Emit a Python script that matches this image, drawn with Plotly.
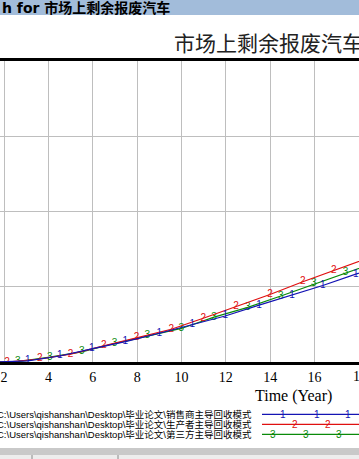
import plotly.graph_objects as go

# ---------------- data (y in grid units) ----------------
title_text = "市场上剩余报废汽车"
window_title = "h for 市场上剩余报废汽车"
x_axis_title = "Time (Year)"
x_ticks = [2, 4, 6, 8, 10, 12, 14, 16]
cut_tick_text = "1"   # the "18" tick label, cut by the right edge of the window

# series 1: 销售商主导回收模式 (blue)
t1 = [0.0, 1.6, 3.07, 4.51, 5.95, 7.47, 9.0, 10.49, 11.97, 13.5, 14.98, 16.37, 17.86, 19.3]
v1 = [0.0, 0.005, 0.02, 0.085, 0.18, 0.275, 0.386, 0.50, 0.615, 0.76, 0.89, 1.02, 1.17, 1.31]
# series 2: 生产者主导回收模式 (red)
t2 = [0.0, 2.13, 3.61, 5.0, 6.49, 7.97, 9.54, 10.98, 12.46, 13.99, 15.47, 16.87, 18.3]
v2 = [0.0, 0.005, 0.045, 0.11, 0.22, 0.33, 0.44, 0.585, 0.74, 0.90, 1.07, 1.22, 1.37]
# series 3: 第三方主导回收模式 (green)
t3 = [0.0, 1.15, 2.62, 4.06, 5.5, 6.98, 8.46, 9.99, 11.47, 12.99, 14.48, 15.97, 17.4, 18.9]
v3 = [0.0, 0.003, 0.01, 0.07, 0.14, 0.25, 0.35, 0.45, 0.60, 0.73, 0.88, 1.04, 1.19, 1.34]

legend_names = [
    "C:\\Users\\qishanshan\\Desktop\\毕业论文\\销售商主导回收模式",
    "C:\\Users\\qishanshan\\Desktop\\毕业论文\\生产者主导回收模式",
    "C:\\Users\\qishanshan\\Desktop\\毕业论文\\第三方主导回收模式",
]
marker_labels = ["1", "2", "3"]
colors = ["#1414B4", "#E01010", "#0A8A0A"]

W, H = 359, 459

def labels_for(ts, lab, lo=1.8, hi=18.0):
    return [lab if (lo <= t <= hi and i > 0) else "" for i, t in enumerate(ts)]

fig = go.Figure()
series = [(t3, v3, 2), (t2, v2, 1), (t1, v1, 0)]
for ts, vs, k in series:
    fig.add_trace(go.Scatter(
        x=ts, y=vs, mode="lines+text",
        text=labels_for(ts, marker_labels[k]),
        textposition="middle center",
        textfont=dict(family="Liberation Sans", size=10, color=colors[k]),
        line=dict(color=colors[k], width=1.2),
        showlegend=False, hoverinfo="skip", cliponaxis=True,
    ))

def py(px):
    return 1 - px / H

def px_(x):
    return x / W

fig.update_layout(
    width=W, height=H,
    margin=dict(l=0, r=0, t=0, b=0),
    paper_bgcolor="white", plot_bgcolor="white",
    xaxis=dict(
        range=[1.815, 18.005], tickvals=x_ticks,
        ticktext=[str(v) for v in x_ticks],
        showgrid=True, gridcolor="#BEBEBE", gridwidth=1,
        showline=True, linecolor="black", linewidth=3, mirror=True,
        zeroline=False, ticks="",
        tickfont=dict(family="Liberation Serif", size=14, color="black"),
        domain=[0, 1],
    ),
    yaxis=dict(
        range=[0, 4], dtick=1, showgrid=True, gridcolor="#BEBEBE", gridwidth=1,
        showticklabels=False, zeroline=False, showline=False, ticks="",
        domain=[py(362.4), py(60.7)],
    ),
    font=dict(family="Liberation Serif", color="black"),
)

shapes = [
    # window title bar
    dict(type="rect", xref="paper", yref="paper", x0=0, x1=1, y0=py(15), y1=1,
         fillcolor="#A2BCDA", line=dict(width=0), layer="below"),
    # toolbar at the bottom
    dict(type="rect", xref="paper", yref="paper", x0=0, x1=1, y0=py(455), y1=py(448),
         fillcolor="#C9C9C9", line=dict(width=0)),
    dict(type="rect", xref="paper", yref="paper", x0=0, x1=1, y0=0, y1=py(455),
         fillcolor="#EDEDED", line=dict(width=0)),
]
for xs in [32, 118]:
    shapes.append(dict(type="line", xref="paper", yref="paper", x0=px_(xs), x1=px_(xs),
                       y0=0, y1=py(455), line=dict(color="#8A8A8A", width=1)))

annotations = [
    dict(text="<b>" + window_title + "</b>", xref="paper", yref="paper",
         x=0, y=py(8), xanchor="left", yanchor="middle", showarrow=False,
         font=dict(family="DejaVu Sans, Noto Sans CJK SC", size=14, color="black")),
    dict(text=title_text, xref="paper", yref="paper",
         x=px_(172), y=py(41.5), xanchor="left", yanchor="middle", showarrow=False,
         font=dict(family="Noto Sans CJK SC", size=21, color="#222222")),
    dict(text=x_axis_title, xref="paper", yref="paper",
         x=px_(293.5), y=py(396), xanchor="center", yanchor="middle", showarrow=False,
         font=dict(family="Liberation Serif", size=16, color="black")),
    dict(text=cut_tick_text, xref="paper", yref="paper",
         x=px_(351), y=py(376), xanchor="left", yanchor="middle", showarrow=False,
         font=dict(family="Liberation Serif", size=14, color="black")),
]

row_y = [414.3, 424.3, 434.3]
legend_marks = [[283, 317, 348], [295, 328], [273, 306, 339]]
for k in range(3):
    annotations.append(dict(text=legend_names[k], xref="paper", yref="paper",
                            x=px_(253.5), y=py(row_y[k]), xanchor="right", yanchor="middle",
                            showarrow=False,
                            font=dict(family="Liberation Sans, Noto Sans CJK SC", size=9.5,
                                      color="black")))
    shapes.append(dict(type="line", xref="paper", yref="paper",
                       x0=px_(262), x1=1, y0=py(row_y[k]), y1=py(row_y[k]),
                       line=dict(color=colors[k], width=1.2)))
    for mx in legend_marks[k]:
        annotations.append(dict(text=marker_labels[k], xref="paper", yref="paper",
                                x=px_(mx), y=py(row_y[k]), xanchor="center", yanchor="middle",
                                showarrow=False,
                                font=dict(family="Liberation Sans", size=10, color=colors[k])))

fig.update_layout(shapes=shapes, annotations=annotations)
fig.write_html(
    "out.html",
    config={"displayModeBar": False},
    post_script="document.body.style.margin='0';document.body.style.overflow='hidden';",
)
